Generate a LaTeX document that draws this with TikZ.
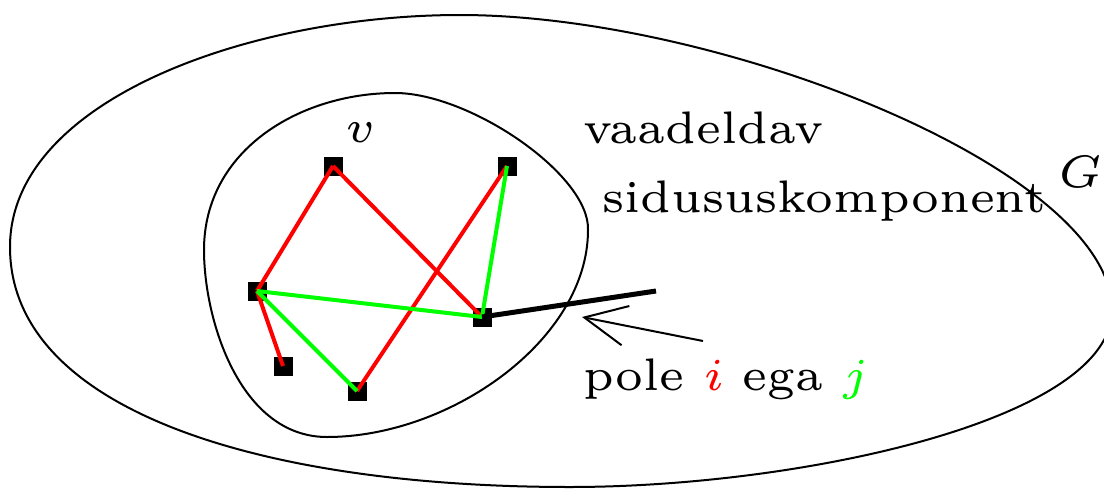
\documentclass[tikz,border=0pt]{standalone}
\usepackage{graphicx}
\usetikzlibrary{arrows.meta}
\newcommand{\smalltxt}[1]{\scalebox{3.8}{\fontsize{6}{7}\selectfont #1}}
\begin{document}
\begin{tikzpicture}[x=0.5pt,y=-0.5pt,
  vtx/.style={fill=black, inner sep=0pt, minimum size=9.5pt, draw=none},
  outline/.style={line width=1pt},
  redge/.style={red, line width=2pt},
  gedge/.style={green, line width=2pt},
  lbl/.style={inner sep=0pt, anchor=base west}]
\useasboundingbox (0,0) rectangle (1104,488);
\begin{scope}
\clip (0,0) rectangle (1104,488);
\draw[outline] (460,15) .. controls (720,15) and (1112,170) .. (1112,310)
  .. controls (1112,420) and (800,487) .. (570,487)
  .. controls (260,487) and (10,410) .. (10,247)
  .. controls (10,100) and (250,15) .. (460,15) -- cycle;
\end{scope}
\draw[outline] (395,93) .. controls (470,93) and (590,175) .. (588,230)
  .. controls (588,340) and (450,437) .. (327,437)
  .. controls (240,437) and (204,320) .. (204,250)
  .. controls (204,150) and (300,93) .. (395,93) -- cycle;

\node[vtx] (A) at (333,166) {};
\node[vtx] (B) at (507,166) {};
\node[vtx] (C) at (257,291) {};
\node[vtx] (D) at (482,317) {};
\node[vtx] (E) at (283,366) {};
\node[vtx] (F) at (357,391) {};
\coordinate (T) at (656,291);
\coordinate (Atip) at (582,317);
\coordinate (Atail) at (703,341);

\draw[redge] (A.center) -- (C.center);
\draw[redge] (A.center) -- (D.center);
\draw[redge] (B.center) -- (F.center);
\draw[redge] (C.center) -- (E.center);
\draw[gedge] (C.center) -- (D.center);
\draw[gedge] (C.center) -- (F.center);
\draw[gedge] (B.center) -- (D.center);
\draw[line width=2.5pt] (D.center) -- (T);
\draw[line width=1pt, -{Straight Barb[length=21pt, width=20pt]}] (Atail) -- (Atip);

\node[lbl] (lv) at (345,142) {\smalltxt{$v$}};
\node[lbl] (l1) at (583,143) {\smalltxt{vaadeldav}};
\node[lbl] (l2) at (602,212) {\smalltxt{sidususkomponent}};
\node[lbl] (lG) at (1058,187) {\smalltxt{$G$}};
\node[lbl] (l3) at (583,390) {\smalltxt{pole \textcolor{red}{$i$} ega \textcolor{green}{$j$}}};
\end{tikzpicture}
\end{document}
